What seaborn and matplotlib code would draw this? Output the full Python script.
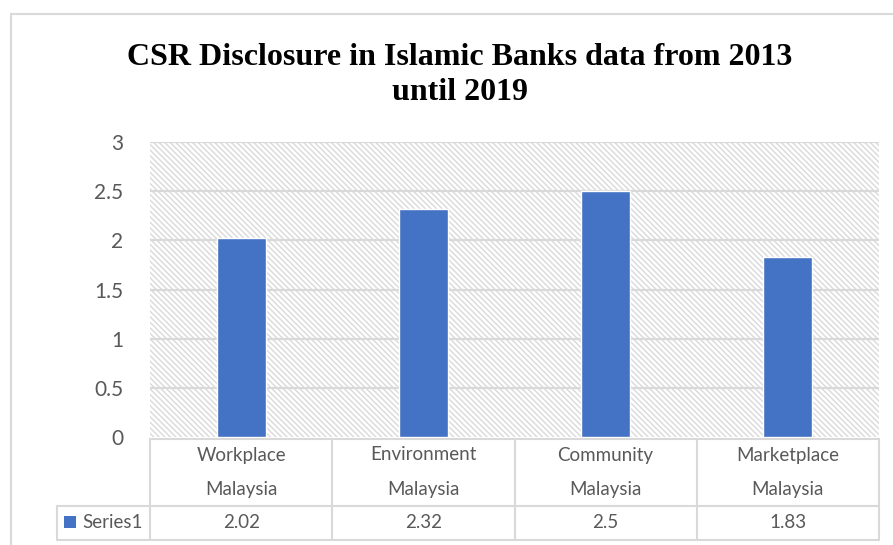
import matplotlib.pyplot as plt
import matplotlib.transforms as mtransforms
from matplotlib.patches import Rectangle
from matplotlib.lines import Line2D
import seaborn as sns
import pandas as pd

# chart data
categories = ['Workplace', 'Environment', 'Community', 'Marketplace']
countries = ['Malaysia', 'Malaysia', 'Malaysia', 'Malaysia']
values = [2.02, 2.32, 2.5, 1.83]
series_name = 'Series1'
title = 'CSR Disclosure in Islamic Banks data from 2013\nuntil 2019'
yticks = [0, 0.5, 1, 1.5, 2, 2.5, 3]

BAR = '#4472C4'
GRID = '#d9d9d9'
TEXT = '#595959'
W, H = 893, 545

sns.set_style('white')
plt.rcParams['font.family'] = ['Lato', 'DejaVu Sans']
plt.rcParams['hatch.linewidth'] = 1.0
plt.rcParams['hatch.color'] = GRID

fig = plt.figure(figsize=(W / 100, H / 100), dpi=100)

# outer chart border
fig.add_artist(Rectangle((11 / W, -0.1), 1.2, 1 - 14 / H + 0.1, transform=fig.transFigure,
                         facecolor='none', edgecolor=GRID, linewidth=1.5))

left, right, top, bottom = 150, 879, 142, 437
ax = fig.add_axes([left / W, 1 - bottom / H, (right - left) / W, (bottom - top) / H])

df = pd.DataFrame({'category': categories, 'value': values})
# hatched plot area
ax.add_patch(Rectangle((0, 0), 1, 1, transform=ax.transAxes, facecolor='white',
                       edgecolor=GRID, hatch='\\' * 6, linewidth=0, zorder=0))
sns.barplot(data=df, x='category', y='value', color=BAR, width=0.27, saturation=1, ax=ax, zorder=3)

ax.set_ylim(0, 3)
ax.set_xlim(-0.5, len(categories) - 0.5)
ax.set_yticks(yticks)
ax.set_yticklabels([f'{t:g}' for t in yticks], fontsize=15, color=TEXT)
ax.tick_params(axis='y', length=0, pad=19)
ax.set_xticks([])
ax.set_xlabel('')
ax.set_ylabel('')
for t in yticks[1:]:
    ax.axhline(t, color=GRID, linewidth=1.6, zorder=1)
for s in ax.spines.values():
    s.set_visible(False)

# data table below the axis
tr = mtransforms.blended_transform_factory(ax.transData, ax.transAxes)
ph = bottom - top
y_top = -2 / ph
y_mid = -69 / ph
y_bot = -103 / ph
x0 = -0.5
x_lab = -0.5 - (left - 57) / ((right - left) / len(categories))
x1 = len(categories) - 0.5
lk = dict(color=GRID, linewidth=1.5, transform=tr, clip_on=False)
ax.add_line(Line2D([x0, x1], [y_top, y_top], **lk))
ax.add_line(Line2D([x_lab, x1], [y_mid, y_mid], **lk))
ax.add_line(Line2D([x_lab, x1], [y_bot, y_bot], **lk))
ax.add_line(Line2D([x_lab, x_lab], [y_mid, y_bot], **lk))
for i in range(len(categories) + 1):
    ax.add_line(Line2D([i - 0.5, i - 0.5], [y_top, y_bot], **lk))

for i, (c, m, v) in enumerate(zip(categories, countries, values)):
    ax.text(i, -18 / ph, c, transform=tr, ha='center', va='center', fontsize=13.5, color=TEXT)
    ax.text(i, -52 / ph, m, transform=tr, ha='center', va='center', fontsize=13.5, color=TEXT)
    ax.text(i, -86 / ph, f'{v:g}', transform=tr, ha='center', va='center', fontsize=13.5, color=TEXT)

ax.add_patch(Rectangle((x_lab + 0.04, -91 / ph), 0.065, 12 / ph, transform=tr, facecolor=BAR,
                       edgecolor='none', clip_on=False))
ax.text(x_lab + 0.14, -86 / ph, series_name, transform=tr, ha='left', va='center',
        fontsize=13.5, color=TEXT)

fig.text(460 / W, 1 - 75 / H, title, ha='center', va='center', fontsize=23, fontweight='bold',
         family='Liberation Serif', color='black', linespacing=1.25)

fig.savefig('out.png', dpi=100)
